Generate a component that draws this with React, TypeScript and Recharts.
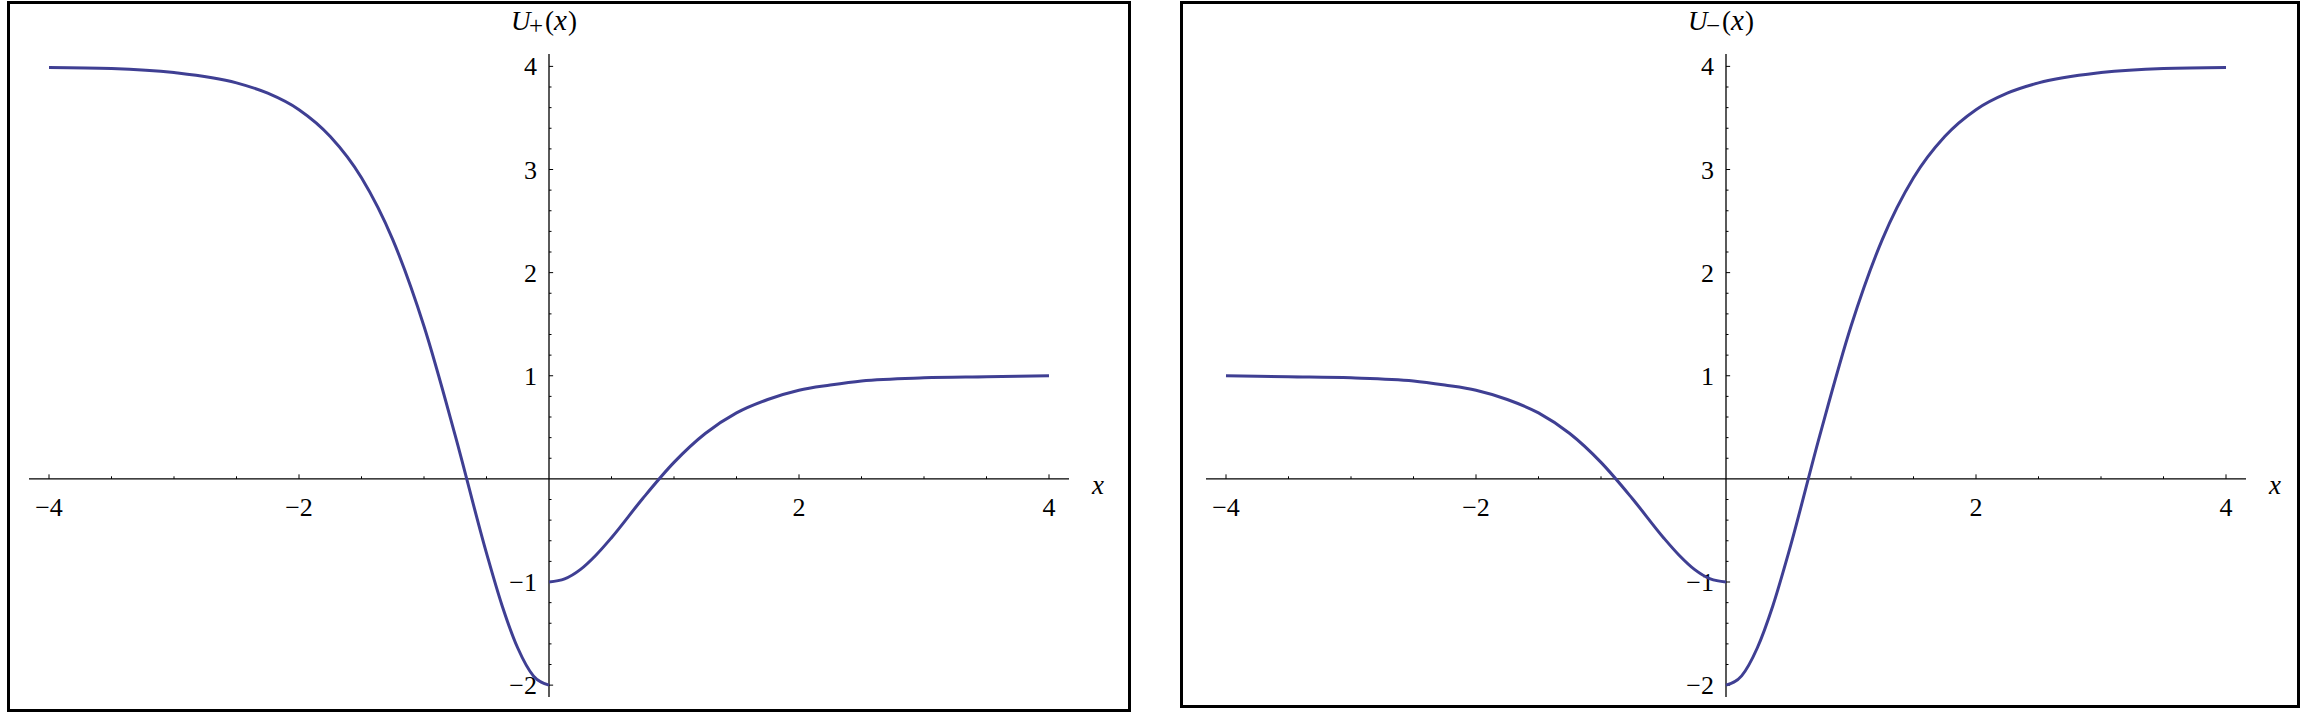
import React from 'react';
import { LineChart, Line, XAxis, YAxis, ReferenceLine } from 'recharts';

// sample positions on each side of the jump at x = 0
const xNeg = [-4, -3.5, -3, -2.5, -2.25, -2, -1.75, -1.5, -1.25, -1, -0.75, -0.5, -0.375, -0.25, -0.125, 0];
const xPos = [0, 0.125, 0.25, 0.375, 0.5, 0.75, 1, 1.25, 1.5, 1.75, 2, 2.25, 2.5, 3, 3.5, 4];

// U+(x)
const uPlusNeg = [3.99, 3.98, 3.94, 3.84, 3.74, 3.58, 3.32, 2.92, 2.32, 1.48, 0.42, -0.72, -1.23, -1.64, -1.91, -2];
const uPlusPos = [-1, -0.97, -0.88, -0.74, -0.57, -0.19, 0.16, 0.44, 0.64, 0.77, 0.86, 0.91, 0.95, 0.98, 0.99, 1];

// U-(x)
const uMinusNeg = [1, 0.99, 0.98, 0.95, 0.91, 0.86, 0.77, 0.64, 0.44, 0.16, -0.19, -0.57, -0.74, -0.88, -0.97, -1];
const uMinusPos = [-2, -1.91, -1.64, -1.23, -0.72, 0.42, 1.48, 2.32, 2.92, 3.32, 3.58, 3.74, 3.84, 3.94, 3.98, 3.99];

const xMajorTicks = [-4, -2, 2, 4];
const xMajorLabels = ['−4', '−2', '2', '4'];
const xMinorTicks = [-3.5, -3, -2.5, -1.5, -1, -0.5, 0.5, 1, 1.5, 2.5, 3, 3.5];
const yMajorTicks = [-2, -1, 1, 2, 3, 4];
const yMajorLabels = ['−2', '−1', '1', '2', '3', '4'];
const yMinorTicks = [
  -1.8, -1.6, -1.4, -1.2, -0.8, -0.6, -0.4, -0.2, 0.2, 0.4, 0.6, 0.8,
  1.2, 1.4, 1.6, 1.8, 2.2, 2.4, 2.6, 2.8, 3.2, 3.4, 3.6, 3.8,
];

const toPoints = (xs: number[], ys: number[]) => xs.map((x, i) => ({ x, y: ys[i] }));

const FONT = 'Liberation Serif, Times New Roman, Times, serif';
const CURVE = '#3f3f93';

// tick lengths in data units (x ticks point up, y ticks point right)
const X_MAJOR_LEN = 0.044;
const X_MINOR_LEN = 0.025;
const Y_MAJOR_LEN = 0.033;
const Y_MINOR_LEN = 0.02;

const EMPTY = { x: 0, y: 0, width: 0, height: 0 };

const xTickLabel = (text: string) => (props: any) => {
  const vb = props.viewBox || EMPTY;
  return (
    <text x={vb.x + vb.width / 2} y={vb.y + vb.height + 37} textAnchor="middle" fontSize={26} fontFamily={FONT} fill="#000">
      {text}
    </text>
  );
};

const yTickLabel = (text: string) => (props: any) => {
  const vb = props.viewBox || EMPTY;
  return (
    <text x={vb.x - 12} y={vb.y + vb.height / 2 + 9} textAnchor="end" fontSize={26} fontFamily={FONT} fill="#000">
      {text}
    </text>
  );
};

const xName = (props: any) => {
  const vb = props.viewBox || EMPTY;
  return (
    <text x={vb.x + vb.width + 23} y={vb.y + 15} fontSize={27} fontFamily={FONT} fontStyle="italic" fill="#000">
      x
    </text>
  );
};

// axis title above the vertical axis, glyphs spaced like the original
const makeTitle = (sub: string) => (props: any) => {
  const vb = props.viewBox || EMPTY;
  const base = vb.y - 24;
  const t = { fontFamily: FONT, fill: '#000' };
  return (
    <g>
      <text x={vb.x - 38} y={base} fontSize={27} fontStyle="italic" {...t}>U</text>
      <text x={vb.x - 20} y={base + 4} fontSize={25} {...t}>{sub}</text>
      <text x={vb.x - 4} y={base} fontSize={27} {...t}>(</text>
      <text x={vb.x + 5} y={base} fontSize={29} fontStyle="italic" {...t}>x</text>
      <text x={vb.x + 19} y={base} fontSize={27} {...t}>)</text>
    </g>
  );
};

type PanelProps = {
  chartLeft: number;
  frame: { left: number; top: number; width: number; height: number };
  sub: string;
  neg: { x: number; y: number }[];
  pos: { x: number; y: number }[];
};

const Panel = ({ chartLeft, frame, sub, neg, pos }: PanelProps) => (
  <>
    <div
      style={{
        position: 'absolute',
        left: frame.left,
        top: frame.top,
        width: frame.width,
        height: frame.height,
        border: '3px solid #000',
        boxSizing: 'border-box',
      }}
    />
    <div style={{ position: 'absolute', left: chartLeft, top: 0 }}>
      <LineChart width={1150} height={718} margin={{ top: 54, left: 29, right: 81, bottom: 21 }}>
        <XAxis type="number" dataKey="x" domain={[-4.16, 4.16]} hide allowDataOverflow />
        <YAxis type="number" dataKey="y" domain={[-2.115, 4.12]} hide allowDataOverflow />
        <ReferenceLine y={0} stroke="#000" strokeWidth={1.3} label={xName} />
        <ReferenceLine x={0} stroke="#000" strokeWidth={1.3} label={makeTitle(sub)} />
        {xMajorTicks.map((v, i) => (
          <ReferenceLine
            key={'xM' + v}
            segment={[{ x: v, y: 0 }, { x: v, y: X_MAJOR_LEN }]}
            stroke="#000"
            label={xTickLabel(xMajorLabels[i])}
          />
        ))}
        {xMinorTicks.map((v) => (
          <ReferenceLine key={'xm' + v} segment={[{ x: v, y: 0 }, { x: v, y: X_MINOR_LEN }]} stroke="#000" />
        ))}
        {yMajorTicks.map((v, i) => (
          <ReferenceLine
            key={'yM' + v}
            segment={[{ x: 0, y: v }, { x: Y_MAJOR_LEN, y: v }]}
            stroke="#000"
            label={yTickLabel(yMajorLabels[i])}
          />
        ))}
        {yMinorTicks.map((v) => (
          <ReferenceLine key={'ym' + v} segment={[{ x: 0, y: v }, { x: Y_MINOR_LEN, y: v }]} stroke="#000" />
        ))}
        <Line data={neg} dataKey="y" type="monotone" stroke={CURVE} strokeWidth={3} dot={false} activeDot={false} isAnimationActive={false} />
        <Line data={pos} dataKey="y" type="monotone" stroke={CURVE} strokeWidth={3} dot={false} activeDot={false} isAnimationActive={false} />
      </LineChart>
    </div>
  </>
);

export default function App() {
  return (
    <div style={{ position: 'absolute', left: 0, top: 0, width: 2308, height: 718, background: '#fff', overflow: 'hidden' }}>
      <Panel
        chartLeft={0}
        frame={{ left: 7, top: 1, width: 1124, height: 711 }}
        sub="+"
        neg={toPoints(xNeg, uPlusNeg)}
        pos={toPoints(xPos, uPlusPos)}
      />
      <Panel
        chartLeft={1177}
        frame={{ left: 1180, top: 1, width: 1120, height: 707 }}
        sub="−"
        neg={toPoints(xNeg, uMinusNeg)}
        pos={toPoints(xPos, uMinusPos)}
      />
    </div>
  );
}
